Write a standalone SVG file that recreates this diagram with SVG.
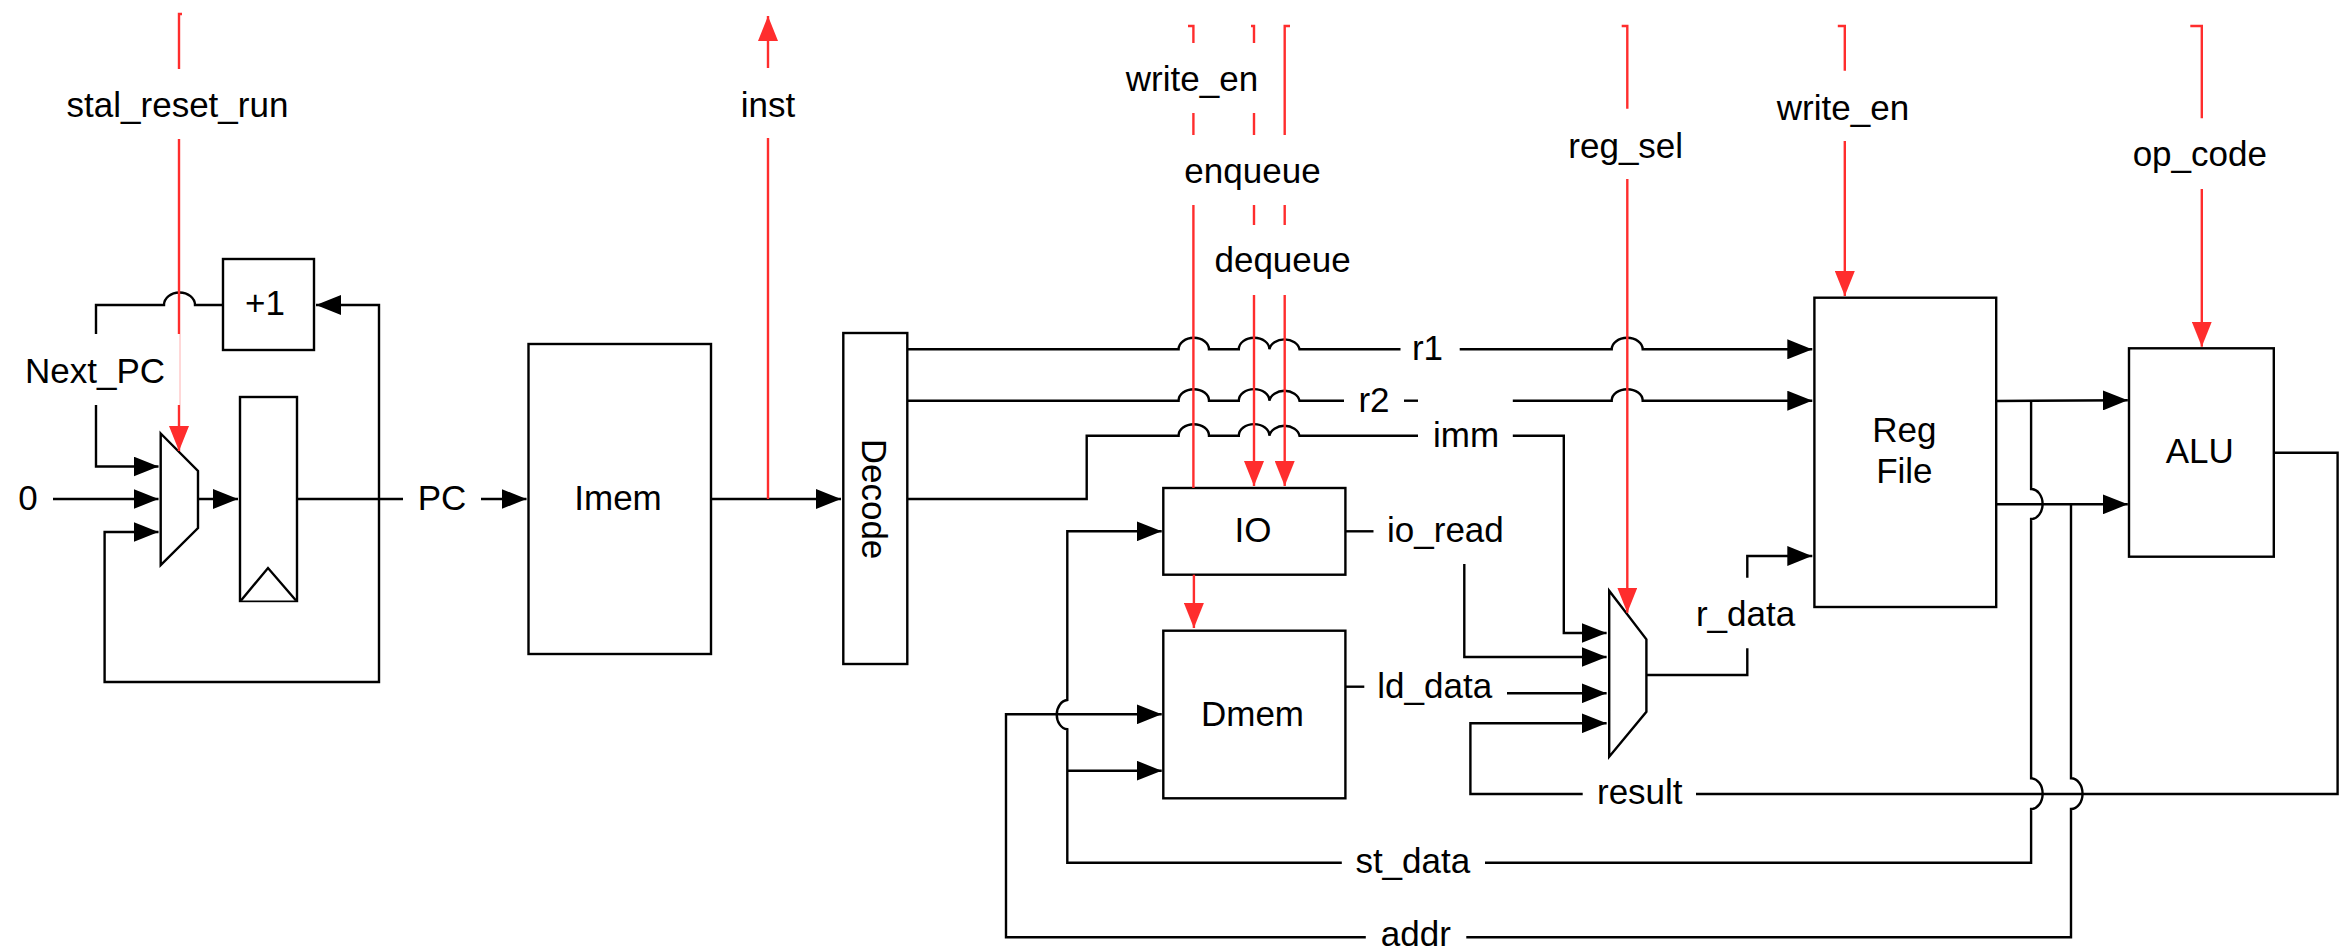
<svg xmlns="http://www.w3.org/2000/svg" width="2345" height="949" viewBox="0 0 2345 949">
<style>
text{font-family:"Liberation Sans",Arial,sans-serif;font-size:35px;fill:#000;text-anchor:middle}
.n{fill:#fff;stroke:#000;stroke-width:2.4;stroke-linejoin:miter}
.b{fill:none;stroke:#000;stroke-width:2.4;stroke-linejoin:miter}
.r{fill:none;stroke:#ff2d2d;stroke-width:2.4}
.ba{marker-end:url(#ab)}
.ra{marker-end:url(#ar)}
</style>
<defs>
<marker id="ab" markerUnits="userSpaceOnUse" viewBox="0 0 25 20" refX="25" refY="10" markerWidth="25" markerHeight="20" orient="auto"><path d="M0 0L25 10L0 20Z" fill="#000"/></marker>
<marker id="ar" markerUnits="userSpaceOnUse" viewBox="0 0 25 20" refX="25" refY="10" markerWidth="25" markerHeight="20" orient="auto"><path d="M0 0L25 10L0 20Z" fill="#ff2d2d"/></marker>
</defs>
<rect width="2345" height="949" fill="#fff"/>
<g id="plus1"><rect class="n" x="223" y="259" width="91" height="91"/><text x="265" y="315">+1</text></g>
<g id="pc-mux"><path class="n" d="M160.7 433.5L198 471V528L160.7 565Z"/></g>
<g id="pc-reg"><rect class="n" x="240" y="397" width="57" height="204"/><path class="n" d="M241 600.5L268 568L296 600.5"/></g>
<g id="imem"><rect class="n" x="528.5" y="344" width="182.500" height="310"/><text x="618" y="510">Imem</text></g>
<g id="decode"><rect class="n" x="843.300" y="333" width="64" height="331"/><text transform="translate(862.300 499) rotate(90)">Decode</text></g>
<g id="io"><rect class="n" x="1163.300" y="488" width="182.100" height="86.700"/><text x="1253" y="542">IO</text></g>
<g id="dmem"><rect class="n" x="1163.300" y="630.700" width="182.100" height="167.600"/><text x="1252.500" y="725.700">Dmem</text></g>
<g id="wb-mux"><path class="n" d="M1609.200 590.700L1646.400 639.300V711.700L1609.200 756.700Z"/></g>
<g id="regfile"><rect class="n" x="1814.400" y="297.700" width="181.800" height="309.300"/><text x="1904.400" y="442">Reg</text><text x="1904.400" y="483">File</text></g>
<g id="alu"><rect class="n" x="2129" y="348.300" width="144.800" height="208.400"/><text x="2199.800" y="462.700">ALU</text></g>
<g id="connectors">
<!-- PC section -->
<path class="b" d="M223 305H195A15.500 12.500 0 0 0 164 305H96V334"/>
<path class="b ba" d="M96 405V466.500H158.500"/>
<path class="b ba" d="M53 499H158.500"/>
<path class="b ba" d="M198 499H238"/>
<path class="b ba" d="M379 499V305H316"/>
<path class="b ba" d="M379 499V682H104.600V532H158.500"/>
<path class="b" d="M297 499H403"/>
<path class="b ba" d="M481 499H526.500"/>
<path class="b ba" d="M711 499H841"/>
<!-- Decode outputs -->
<path class="b" d="M907.300 349.300H1178.600A15.200 11.500 0 0 1 1209 349.300H1238.800A15.200 11.500 0 0 1 1269.400 349.300A15.200 11.500 0 0 1 1299.500 349.300H1400.500"/>
<path class="b ba" d="M1459.700 349.300H1611.700A15.500 11.500 0 0 1 1642.700 349.300H1812.300"/>
<path class="b" d="M907.300 400.700H1178.600A15.200 11.500 0 0 1 1209 400.700H1238.800A15.200 11.500 0 0 1 1269.400 400.700A15.200 11.500 0 0 1 1299.500 400.700H1344"/>
<path class="b" d="M1404 400.700H1418"/>
<path class="b ba" d="M1512.800 400.700H1611.700A15.500 11.500 0 0 1 1642.700 400.700H1812.300"/>
<path class="b" d="M907.300 499H1086.700V435.700H1178.600A15.200 11.500 0 0 1 1209 435.700H1238.800A15.200 11.500 0 0 1 1269.400 435.700A15.200 11.500 0 0 1 1299.500 435.700H1418"/>
<path class="b ba" d="M1512.800 435.700H1563.800V633H1606.600"/>
<!-- Memory data paths -->
<path class="b" d="M1345.400 531.300H1373.500"/>
<path class="b ba" d="M1464.300 564V657H1606.600"/>
<path class="b" d="M1345.400 686.700H1364.300"/>
<path class="b ba" d="M1507 693.300H1606.600"/>
<path class="b" d="M1646.400 675H1747.300V648.300"/>
<path class="b ba" d="M1747.300 577.700V556H1812.300"/>
<path class="b" d="M1696 794H2337.600V452.700H2273.800"/>
<path class="b ba" d="M1582.700 794H1470.400V723.300H1606.600"/>
<path class="b ba" d="M1996.200 401L2127.800 400.300"/>
<path class="b ba" d="M1996.200 504.300H2127.800"/>
<path class="b" d="M2031.100 401V489A11.500 15 0 0 1 2031.100 519V778.300A11.500 15.300 0 0 1 2031.100 809V862.700H1485"/>
<path class="b ba" d="M1341.800 862.700H1067.300V729.300A11.500 14.700 0 0 1 1067.300 700V531.300H1161.700"/>
<path class="b ba" d="M1067.300 770.700H1161.700"/>
<path class="b" d="M2071 504.300V778.300A11.500 15.300 0 0 1 2071 809V937.300H1466.300"/>
<path class="b ba" d="M1365.800 937.300H1006V714.300H1161.700"/>
<!-- Control signals -->
<path class="r" d="M182 14H179V69"/>
<path class="r" d="M179 139V334"/>
<path fill="none" stroke="#ffb0b0" stroke-width="1" d="M180 334V405"/>
<path class="r ra" d="M179 405V451"/>
<path class="r" d="M768 499V138"/>
<path class="r ra" d="M768 68V16"/>
<path class="r" d="M1188 26H1193.400V43"/>
<path class="r" d="M1193.400 113V135"/>
<path class="r" d="M1193.400 205V488"/>
<path class="r ra" d="M1193.900 574.700V628"/>
<path class="r" d="M1251 26H1254V43"/>
<path class="r" d="M1254 113V135"/>
<path class="r" d="M1254 205V225"/>
<path class="r ra" d="M1254 295V486"/>
<path class="r" d="M1290 26H1284.700V135"/>
<path class="r" d="M1284.700 205V225"/>
<path class="r ra" d="M1284.700 295V486"/>
<path class="r" d="M1621.700 26H1627.300V108.700"/>
<path class="r ra" d="M1627.300 179V612.700"/>
<path class="r" d="M1837.800 26H1844.800V70.700"/>
<path class="r ra" d="M1844.800 141V296"/>
<path class="r" d="M2190.300 26H2201.800V118.300"/>
<path class="r ra" d="M2201.800 189V346.700"/>
<!-- Labels -->
<text x="177.500" y="117">stal_reset_run</text>
<text x="768" y="117">inst</text>
<text x="95" y="382.600">Next_PC</text>
<text x="28" y="510">0</text>
<text x="442" y="510">PC</text>
<text x="1192" y="90.700">write_en</text>
<text x="1252.500" y="183">enqueue</text>
<text x="1282.600" y="272">dequeue</text>
<text x="1625.700" y="158">reg_sel</text>
<text x="1843" y="120">write_en</text>
<text x="2199.800" y="166">op_code</text>
<text x="1427.500" y="360">r1</text>
<text x="1374" y="411.700">r2</text>
<text x="1466" y="446.700">imm</text>
<text x="1445.400" y="542">io_read</text>
<text x="1434.700" y="697.700">ld_data</text>
<text x="1745.600" y="626">r_data</text>
<text x="1639.800" y="804">result</text>
<text x="1412.800" y="873">st_data</text>
<text x="1415.800" y="946">addr</text>
</g>
</svg>
